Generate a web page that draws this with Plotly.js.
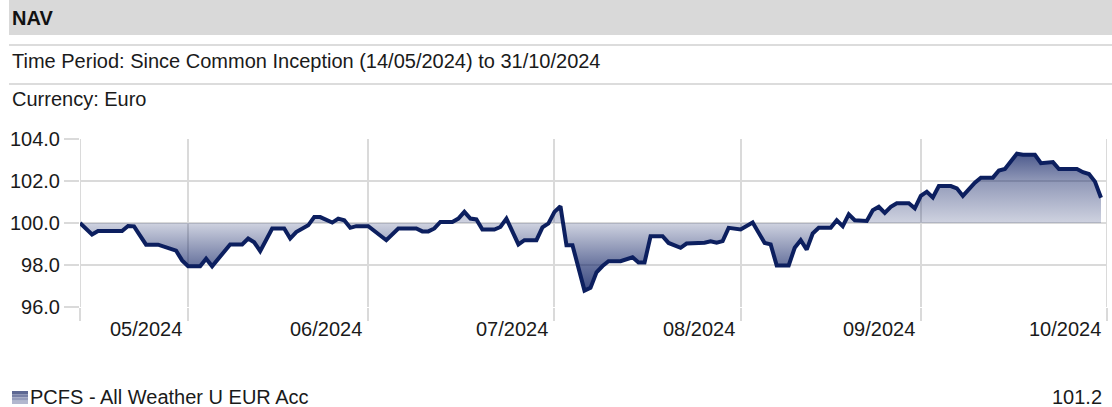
<!DOCTYPE html>
<html>
<head>
<meta charset="utf-8">
<script src="https://cdn.plot.ly/plotly-3.0.1.min.js"></script>
<style>html,body{margin:0;padding:0;background:#fff;}#chart{width:1112px;height:407px;}</style>
</head>
<body>
<div id="chart"></div>
<script>
// ---- data ----
const dates = [
 '2024-05-14','2024-05-16','2024-05-17','2024-05-21','2024-05-22','2024-05-23','2024-05-24','2024-05-25','2024-05-27','2024-05-28',
 '2024-05-29','2024-05-30','2024-05-31','2024-06-01','2024-06-03','2024-06-04','2024-06-05','2024-06-08','2024-06-10','2024-06-11',
 '2024-06-12','2024-06-13','2024-06-15','2024-06-17','2024-06-18','2024-06-19','2024-06-21','2024-06-22','2024-06-23','2024-06-25',
 '2024-06-26','2024-06-27','2024-06-28','2024-06-29','2024-07-01','2024-07-04','2024-07-06','2024-07-09','2024-07-10','2024-07-11',
 '2024-07-12','2024-07-13','2024-07-15','2024-07-16','2024-07-17','2024-07-18','2024-07-19','2024-07-20','2024-07-22','2024-07-23',
 '2024-07-24','2024-07-26','2024-07-27','2024-07-29','2024-07-30','2024-07-31','2024-08-01','2024-08-02','2024-08-03','2024-08-04',
 '2024-08-06','2024-08-07','2024-08-08','2024-08-09','2024-08-10','2024-08-12','2024-08-14','2024-08-15','2024-08-16','2024-08-17',
 '2024-08-19','2024-08-20','2024-08-22','2024-08-23','2024-08-26','2024-08-27','2024-08-28','2024-08-29','2024-08-30','2024-09-01',
 '2024-09-03','2024-09-05','2024-09-06','2024-09-07','2024-09-09','2024-09-10','2024-09-11','2024-09-12','2024-09-13','2024-09-14',
 '2024-09-16','2024-09-17','2024-09-18','2024-09-19','2024-09-20','2024-09-21','2024-09-22','2024-09-23','2024-09-24','2024-09-25',
 '2024-09-26','2024-09-27','2024-09-29','2024-09-30','2024-10-01','2024-10-02','2024-10-03','2024-10-04','2024-10-06','2024-10-07',
 '2024-10-08','2024-10-10','2024-10-11','2024-10-13','2024-10-14','2024-10-15','2024-10-17','2024-10-18','2024-10-20','2024-10-21',
 '2024-10-23','2024-10-24','2024-10-27','2024-10-28','2024-10-29','2024-10-30','2024-10-31'
];
const nav = [
 100.00,99.45,99.62,99.62,99.86,99.84,99.40,98.97,98.97,98.86,
 98.74,98.68,98.22,97.94,97.94,98.30,97.94,98.98,98.98,99.26,
 99.08,98.66,99.74,99.74,99.26,99.57,99.89,100.28,100.28,100.02,
 100.21,100.13,99.77,99.85,99.85,99.18,99.74,99.74,99.60,99.60,
 99.74,100.05,100.05,100.21,100.53,100.21,100.17,99.69,99.69,99.81,
 100.21,98.98,99.18,99.18,99.79,99.98,100.53,100.80,98.94,98.94,
 96.78,96.91,97.65,97.95,98.18,98.18,98.37,98.12,98.12,99.37,
 99.37,99.05,98.82,99.02,99.06,99.13,99.06,99.14,99.77,99.69,
 100.02,99.05,98.98,97.98,97.98,98.82,99.18,98.73,99.50,99.77,
 99.77,100.13,99.85,100.41,100.13,100.10,100.10,100.61,100.77,100.48,
 100.77,100.94,100.94,100.70,101.29,101.49,101.22,101.76,101.76,101.65,
 101.29,101.92,102.16,102.16,102.50,102.57,103.30,103.25,103.25,102.85,
 102.90,102.57,102.57,102.42,102.33,101.97,101.20
];
const baseValue = 100;
const monthLines = ['2024-05-14','2024-06-01','2024-07-01','2024-08-01','2024-09-01','2024-10-01','2024-11-01'];
const monthLabels = ['05/2024','06/2024','07/2024','08/2024','09/2024','10/2024'];
const yTicks = [96,98,100,102,104];
const seriesName = 'PCFS - All Weather U EUR Acc';
const headerTitle = 'NAV';
const periodText = 'Time Period: Since Common Inception (14/05/2024) to 31/10/2024';
const currencyText = 'Currency: Euro';

// ---- layout helpers (pixel -> paper) ----
const L = 80, R = 1107, T = 139, B = 307, W = 1112, H = 407;
const xp = px => (px - L) / (R - L);
const yp = py => (B - py) / (B - T);
const FONT = 'Liberation Sans, Arial, sans-serif';
const FS = 20;
const TXT = '#1a1a1a';
const GRID = '#dadada';

const traces = [
  {x: dates, y: dates.map(() => baseValue), type: 'scatter', mode: 'lines',
   line: {width: 0, color: 'rgba(0,0,0,0)'}, hoverinfo: 'skip', showlegend: false},
  {x: dates, y: nav, type: 'scatter', mode: 'lines', name: seriesName,
   line: {color: '#0c1f5f', width: 4, shape: 'linear'},
   fill: 'tonexty',
   fillcolor: 'rgba(14,32,100,0.4)',
   fillgradient: {type: 'vertical', start: 96.7, stop: 103.4,
     colorscale: [[0, 'rgba(14,32,100,0.82)'], [0.194, 'rgba(14,32,100,0.62)'],
                  [0.4925, 'rgba(14,32,100,0.2)'], [0.791, 'rgba(14,32,100,0.46)'],
                  [1, 'rgba(14,32,100,0.76)']]},
   showlegend: false}
];

const shapes = [
  {type: 'rect', xref: 'paper', yref: 'paper', x0: xp(9), x1: xp(W), y0: yp(0), y1: yp(35),
   fillcolor: '#d9d9d9', line: {width: 0}, layer: 'below'},
  {type: 'line', xref: 'paper', yref: 'paper', x0: xp(9), x1: xp(W), y0: yp(45), y1: yp(45),
   line: {color: '#dcdcdc', width: 2}},
  {type: 'line', xref: 'paper', yref: 'paper', x0: xp(9), x1: xp(W), y0: yp(84), y1: yp(84),
   line: {color: '#dcdcdc', width: 2}},
  // grid lines on the plot edges (first and last month boundary)
  {type: 'line', xref: 'x', yref: 'y', x0: monthLines[0], x1: monthLines[0],
   y0: yTicks[0], y1: yTicks[yTicks.length - 1], line: {color: GRID, width: 2}, layer: 'below'},
  {type: 'line', xref: 'x', yref: 'y', x0: monthLines[monthLines.length - 1], x1: monthLines[monthLines.length - 1],
   y0: yTicks[0], y1: yTicks[yTicks.length - 1], line: {color: GRID, width: 2}, layer: 'below'}
];
const sqCols = ['#5d6893', '#7880a6', '#959cbb', '#b3b8cf'];
sqCols.forEach((c, i) => {
  shapes.push({type: 'rect', xref: 'paper', yref: 'paper', x0: xp(12), x1: xp(28),
    y0: yp(391 + i * 3.25 + 3.25), y1: yp(391 + i * 3.25), fillcolor: c, line: {width: 0}});
});

const annotations = [
  {xref: 'paper', yref: 'paper', x: xp(10), y: yp(18), xanchor: 'left', yanchor: 'middle',
   text: '<b>' + headerTitle + '</b>', showarrow: false, font: {family: FONT, size: FS, color: '#111'}},
  {xref: 'paper', yref: 'paper', x: xp(10), y: yp(61), xanchor: 'left', yanchor: 'middle',
   text: periodText, showarrow: false, font: {family: FONT, size: FS, color: TXT}},
  {xref: 'paper', yref: 'paper', x: xp(10), y: yp(99), xanchor: 'left', yanchor: 'middle',
   text: currencyText, showarrow: false, font: {family: FONT, size: FS, color: TXT}},
  {xref: 'paper', yref: 'paper', x: xp(28), y: yp(397), xanchor: 'left', yanchor: 'middle',
   text: seriesName, showarrow: false, font: {family: FONT, size: FS, color: TXT}},
  {xref: 'paper', yref: 'paper', x: xp(1104), y: yp(397), xanchor: 'right', yanchor: 'middle',
   text: nav[nav.length - 1].toFixed(1), showarrow: false, font: {family: FONT, size: FS, color: TXT}}
];
monthLabels.forEach((lab, i) => {
  annotations.push({xref: 'x', yref: 'paper', x: monthLines[i + 1], y: yp(329), xanchor: 'right',
    yanchor: 'middle', xshift: -4, text: lab, showarrow: false,
    font: {family: FONT, size: FS, color: TXT}});
});

const layout = {
  width: W, height: H,
  margin: {l: L, r: W - R, t: T, b: H - B, pad: 0},
  paper_bgcolor: '#fff', plot_bgcolor: '#fff',
  font: {family: FONT, size: FS, color: TXT},
  showlegend: false,
  xaxis: {type: 'date', range: [monthLines[0], monthLines[monthLines.length - 1]],
    tickmode: 'array', tickvals: monthLines, showticklabels: false,
    ticks: 'outside', ticklen: 13, tickwidth: 2, tickcolor: GRID,
    showgrid: true, gridcolor: GRID, gridwidth: 2, zeroline: false, showline: false, fixedrange: true},
  yaxis: {range: [yTicks[0], yTicks[yTicks.length - 1]], tickmode: 'array', tickvals: yTicks,
    ticktext: yTicks.map(v => v.toFixed(1)),
    ticks: 'outside', ticklen: 15, tickwidth: 2, tickcolor: GRID,
    tickfont: {family: FONT, size: FS, color: TXT},
    showgrid: true, gridcolor: GRID, gridwidth: 2, zeroline: false, showline: false, fixedrange: true},
  shapes: shapes,
  annotations: annotations,
  hovermode: false
};

Plotly.newPlot('chart', traces, layout, {staticPlot: true, displayModeBar: false});
</script>
</body>
</html>
